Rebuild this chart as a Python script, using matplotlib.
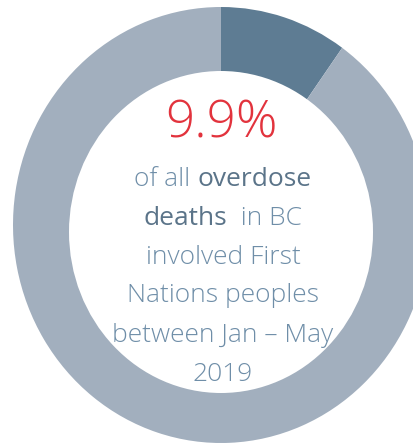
import matplotlib.pyplot as plt
from matplotlib.patches import Ellipse

# share of overdose deaths (percent)
share = [9.9, 90.1]
ring_colors = ['#5e7c93', '#a2afbe']
headline = '9.9%'
body_lines = [
    [('of all ', 'light'), ('overdose', 'normal')],
    [('deaths', 'normal'), ('  in BC', 'light')],
    [('involved First', 'light')],
    [('Nations peoples', 'light')],
    [('between Jan \u2013 May', 'light')],
    [('2019', 'light')],
]

W, H = 414, 444
fig = plt.figure(figsize=(W / 100, H / 100), dpi=100)
ax = fig.add_axes([0, 0, 1, 1])

# outer ring in pixel terms (image is slightly stretched vertically)
cx, cy, rx, ry = 221, 225, 208, 218
ax.pie(share, colors=ring_colors, startangle=90, counterclock=False,
       radius=1, wedgeprops=dict(linewidth=0))
ax.set_aspect('auto')
ax.set_xlim(-cx / rx, (W - cx) / rx)
ax.set_ylim((cy - H) / ry, cy / ry)
# white hole
ax.add_patch(Ellipse((0, (cy - 232) / ry), 2 * 152 / rx, 2 * 161 / ry,
                     color='white', lw=0))
ax.axis('off')

font = 'Open Sans'
fig.text(221.5 / W, 1 - 137 / H, headline, ha='center', va='baseline',
         fontsize=37, color='#e2333d', family=font, weight='light')

renderer = fig.canvas.get_renderer()
baselines = [186, 224.5, 263.5, 302.5, 342, 381]
text_cols = {'light': '#6f8ea8', 'normal': '#5b7489'}
for base, parts in zip(baselines, body_lines):
    texts = []
    for s, w in parts:
        t = fig.text(0, 1 - base / H, s, ha='left', va='baseline',
                     fontsize=19, color=text_cols[w], family=font, weight=w)
        texts.append(t)
    widths = [t.get_window_extent(renderer).width for t in texts]
    x = 223 - sum(widths) / 2
    for t, wd in zip(texts, widths):
        t.set_x(x / W)
        x += wd

fig.savefig('out.png', dpi=100, facecolor='white')
